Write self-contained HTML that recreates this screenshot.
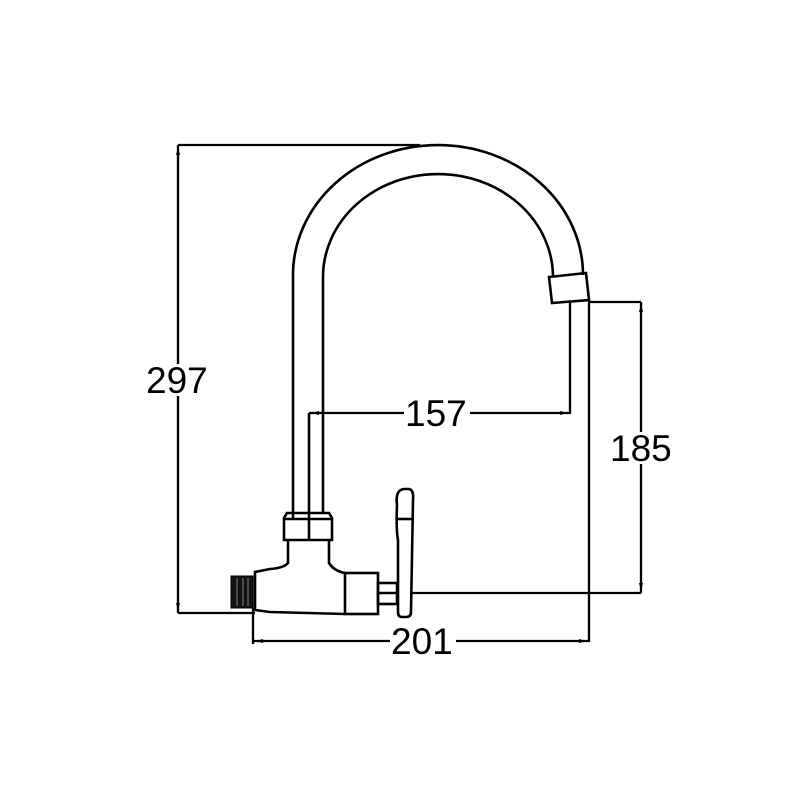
<!DOCTYPE html><html><head><style>body{margin:0;background:#fff}svg{display:block}text{font-family:"Liberation Sans",sans-serif;font-size:37px;fill:#000}</style></head><body>
<svg width="800" height="800" viewBox="0 0 800 800" fill="none" stroke="#000" stroke-width="2.6">
<path d="M293,520 L293,275 A145,130 0 0 1 583,275"/>
<path d="M323,513 L323,277 A115,103 0 0 1 553,277"/>
<path d="M549,277 L586,273 L589,300 L552,303 Z"/>
<line x1="309" y1="413" x2="309" y2="540"/>
<path d="M287,513 L329,513 L332,518 L332,540 L284,540 L284,518 Z"/>
<line x1="284" y1="519" x2="332" y2="519"/>
<path d="M288,540 L288,563 Q284,568 270,569 L255,572 L255,610 L270,612 L345,614"/>
<path d="M329,540 L329,563 Q334,571 345,573"/>
<rect x="345" y="573" width="33" height="41"/>
<rect x="378" y="583" width="19" height="21"/>
<line x1="378" y1="593" x2="397" y2="593"/>
<path d="M397,505 Q395,490 404,489 L409,489 Q414,490 413,500 L411,612 Q411,617 406,617 L402,617 Q398,617 398,612 L398,540 Q396,530 397,505 Z"/>
<line x1="397" y1="519" x2="413" y2="519"/>
<rect x="231" y="576" width="22" height="32" fill="#111" stroke-width="1"/>
<g stroke="#888" stroke-width="1"><line x1="237" y1="578" x2="237" y2="606"/><line x1="243" y1="578" x2="243" y2="606"/><line x1="248" y1="578" x2="248" y2="606"/></g>
<line x1="178" y1="145" x2="420" y2="145" stroke-width="2.3"/>
<line x1="178" y1="613" x2="255" y2="613" stroke-width="2.3"/>
<line x1="178" y1="145" x2="178" y2="613" stroke-width="2.3"/>
<line x1="309" y1="413" x2="570" y2="413" stroke-width="2.3"/>
<line x1="570" y1="302" x2="570" y2="414" stroke-width="2.3"/>
<line x1="589" y1="302" x2="641" y2="302" stroke-width="2.3"/>
<line x1="412" y1="593" x2="641" y2="593" stroke-width="2.3"/>
<line x1="641" y1="302" x2="641" y2="593" stroke-width="2.3"/>
<line x1="589" y1="300" x2="589" y2="642" stroke-width="2.3"/>
<line x1="253" y1="608" x2="253" y2="644" stroke-width="2.3"/>
<line x1="253" y1="641" x2="589" y2="641" stroke-width="2.3"/>
<g fill="#000" stroke="none">
<path d="M178,147 l-2,8 h4z"/><path d="M178,611 l-2,-8 h4z"/>
<path d="M641,304 l-2,8 h4z"/><path d="M641,591 l-2,-8 h4z"/>
<path d="M311,413 l8,-2 v4z"/><path d="M568,413 l-8,-2 v4z"/>
<path d="M255,641 l8,-2 v4z"/><path d="M587,641 l-8,-2 v4z"/>
</g>
<g stroke="none">
<rect x="145" y="364" width="66" height="32" fill="#fff"/>
<rect x="404" y="398" width="66" height="32" fill="#fff"/>
<rect x="609" y="432" width="64" height="32" fill="#fff"/>
<rect x="390" y="625" width="66" height="32" fill="#fff"/>
<text x="146" y="393">297</text>
<text x="405" y="426">157</text>
<text x="610" y="461">185</text>
<text x="391" y="654">201</text>
</g>
</svg></body></html>
